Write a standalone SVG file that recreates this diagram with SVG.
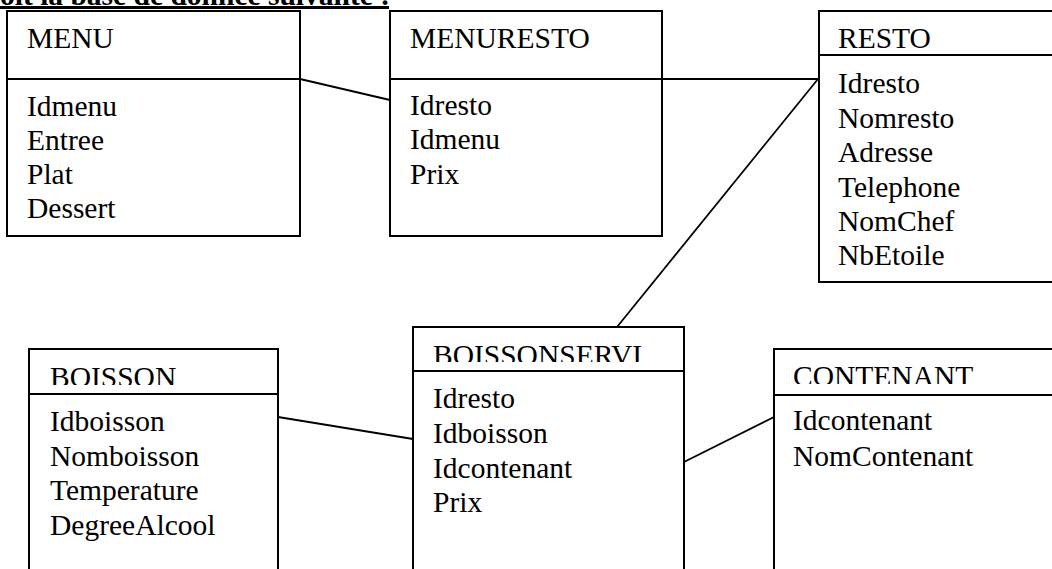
<svg xmlns="http://www.w3.org/2000/svg" width="1052" height="569" viewBox="0 0 1052 569">
<style>
.box{fill:none;stroke:#000;stroke-width:2}
.t{font-family:"Liberation Serif","Times New Roman",serif;font-size:29.5px;fill:#000}
.c{stroke:#000;stroke-width:1.8;fill:none}
.h{font-family:"Liberation Serif","Times New Roman",serif;font-size:29.5px;font-weight:bold;fill:#000}
</style>
<defs>
<clipPath id="clipBS"><rect x="413" y="327" width="300" height="35"/></clipPath>
<clipPath id="clipB"><rect x="29" y="349" width="260" height="36"/></clipPath>
<clipPath id="clipC"><rect x="774" y="349" width="300" height="35"/></clipPath>
</defs>
<rect width="1052" height="569" fill="#fff"/>
<g id="heading">
<text class="h" x="0" y="5">oit la base de donnée suivante :</text>
<rect x="0" y="6" width="389" height="3" fill="#000"/>
</g>
<g id="connectors">
<line class="c" x1="300" y1="79" x2="390" y2="100"/>
<line class="c" x1="662" y1="79" x2="818" y2="79"/>
<line class="c" x1="818" y1="79" x2="617" y2="327"/>
<line class="c" x1="278" y1="417" x2="413" y2="439"/>
<line class="c" x1="684" y1="462" x2="774" y2="417"/>
</g>
<g id="menu">
<rect class="box" x="7" y="11" width="293" height="225"/>
<line class="box" x1="7" y1="79" x2="300" y2="79"/>
<text class="t" x="27" y="48">MENU</text>
<text class="t" x="27" y="116">Idmenu</text>
<text class="t" x="27" y="150">Entree</text>
<text class="t" x="27" y="184">Plat</text>
<text class="t" x="27" y="218">Dessert</text>
</g>
<g id="menuresto">
<rect class="box" x="390" y="11" width="272" height="225"/>
<line class="box" x1="390" y1="79" x2="662" y2="79"/>
<text class="t" x="410" y="48">MENURESTO</text>
<text class="t" x="410" y="115">Idresto</text>
<text class="t" x="410" y="149">Idmenu</text>
<text class="t" x="410" y="184">Prix</text>
</g>
<g id="resto">
<rect class="box" x="819" y="11" width="260" height="271"/>
<line class="box" x1="819" y1="55" x2="1060" y2="55"/>
<text class="t" x="838" y="48">RESTO</text>
<text class="t" x="838" y="93">Idresto</text>
<text class="t" x="838" y="128">Nomresto</text>
<text class="t" x="838" y="162">Adresse</text>
<text class="t" x="838" y="197">Telephone</text>
<text class="t" x="838" y="231">NomChef</text>
<text class="t" x="838" y="265">NbEtoile</text>
</g>
<g id="boissonservi">
<rect class="box" x="413" y="327" width="271" height="300"/>
<line class="box" x1="413" y1="371" x2="684" y2="371"/>
<text class="t" x="433" y="365" clip-path="url(#clipBS)">BOISSONSERVI</text>
<text class="t" x="433" y="408">Idresto</text>
<text class="t" x="433" y="443">Idboisson</text>
<text class="t" x="433" y="478">Idcontenant</text>
<text class="t" x="433" y="512">Prix</text>
</g>
<g id="boisson">
<rect class="box" x="29" y="349" width="249" height="300"/>
<line class="box" x1="29" y1="394" x2="278" y2="394"/>
<text class="t" x="50" y="387" clip-path="url(#clipB)">BOISSON</text>
<text class="t" x="50" y="431">Idboisson</text>
<text class="t" x="50" y="466">Nomboisson</text>
<text class="t" x="50" y="500">Temperature</text>
<text class="t" x="50" y="535">DegreeAlcool</text>
</g>
<g id="contenant">
<rect class="box" x="774" y="349" width="300" height="300"/>
<line class="box" x1="774" y1="395" x2="1060" y2="395"/>
<text class="t" x="793" y="386" clip-path="url(#clipC)">CONTENANT</text>
<text class="t" x="793" y="430">Idcontenant</text>
<text class="t" x="793" y="466">NomContenant</text>
</g>
</svg>
